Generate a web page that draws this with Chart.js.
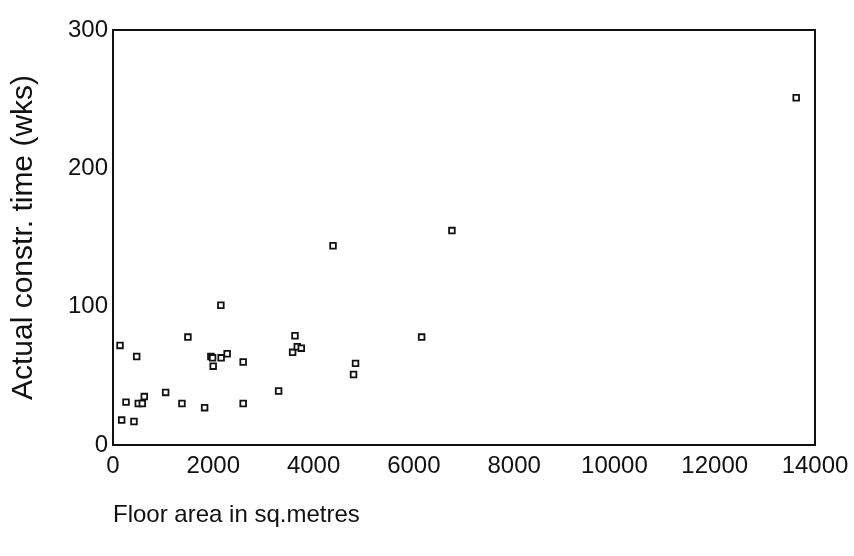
<!DOCTYPE html>
<html>
<head>
<meta charset="utf-8">
<title>Floor area vs construction time</title>
<script src="https://cdn.jsdelivr.net/npm/chart.js@4/dist/chart.umd.min.js"></script>
<style>
    html, body { margin: 0; padding: 0; background: #fff; }
    #wrap { width: 854px; height: 556px; position: relative; }
</style>
</head>
<body>
<div id="wrap"><canvas id="scatterChart"></canvas></div>
<script>
// Floor area (sq.m) and actual construction time (weeks)
const floorArea = [140, 173, 259, 418, 472, 504, 584, 624, 1050, 1375, 1494, 1827,
    1952, 1986, 1998, 2151, 2157, 2277, 2596, 2596, 3303, 3629, 3582, 3675, 3755,
    4837, 4797, 4388, 6759, 6155, 13625];
const constrTime = [72, 18, 31, 17, 64, 30, 30, 35, 38, 30, 78, 27,
    64, 63, 57, 101, 63, 66, 60, 30, 39, 79, 67, 71, 70,
    59, 51, 144, 155, 78, 251];

const xTicks = [0, 2000, 4000, 6000, 8000, 10000, 12000, 14000];
const yTicks = [0, 100, 200, 300];

const FONT = "'Liberation Sans', Arial, sans-serif";

// draws the box round the plot (top and right edges too)
const framePlugin = {
    id: 'frame',
    afterDatasetsDraw(chart) {
        const { ctx, chartArea: a } = chart;
        ctx.save();
        ctx.strokeStyle = '#111';
        ctx.lineWidth = 2;
        ctx.strokeRect(a.left, a.top, a.right - a.left, a.bottom - a.top);
        ctx.restore();
    }
};

const points = floorArea.map((x, i) => ({ x: x, y: constrTime[i] }));

new Chart(document.getElementById('scatterChart'), {
    type: 'scatter',
    data: {
        datasets: [{
            label: 'Actual constr. time',
            data: points,
            pointStyle: 'rect',
            pointRadius: 4,
            pointHoverRadius: 4,
            backgroundColor: '#fff',
            borderColor: '#111',
            borderWidth: 1.8
        }]
    },
    options: {
        responsive: true,
        maintainAspectRatio: false,
        animation: false,
        layout: { padding: { top: 30, right: 39, left: 6, bottom: 0 } },
        plugins: {
            legend: { display: false },
            tooltip: { enabled: false }
        },
        scales: {
            x: {
                type: 'linear',
                min: 0,
                max: 14000,
                afterBuildTicks: (s) => { s.ticks = xTicks.map(v => ({ value: v })); },
                afterFit: (s) => { s.height = 111; },
                grid: { display: false, drawTicks: true, tickLength: 5, tickColor: '#111' },
                border: { display: true, color: '#111', width: 2 },
                ticks: {
                    color: '#111',
                    padding: 2,
                    maxRotation: 0,
                    callback: (v) => String(v),
                    font: { size: 24, family: FONT }
                },
                title: {
                    display: true,
                    text: 'Floor area in sq.metres',
                    align: 'start',
                    color: '#111',
                    padding: { top: 0, bottom: 26 },
                    font: { size: 24, family: FONT }
                }
            },
            y: {
                type: 'linear',
                min: 0,
                max: 300,
                afterBuildTicks: (s) => { s.ticks = yTicks.map(v => ({ value: v })); },
                afterFit: (s) => { s.width = 107; },
                grid: { display: false, drawTicks: true, tickLength: 5, tickColor: '#111' },
                border: { display: true, color: '#111', width: 2 },
                ticks: {
                    color: '#111',
                    padding: 0,
                    font: { size: 24, family: FONT }
                },
                title: {
                    display: true,
                    text: 'Actual constr. time (wks)',
                    color: '#111',
                    padding: { top: 0, bottom: 6 },
                    font: { size: 30, family: FONT }
                }
            }
        }
    },
    plugins: [framePlugin]
});
</script>
</body>
</html>
